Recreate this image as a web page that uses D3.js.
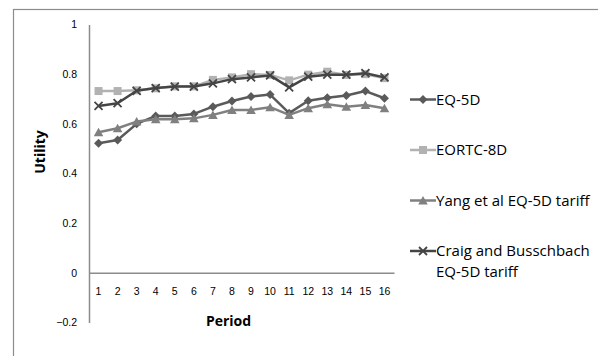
<!DOCTYPE html>
<html>
<head>
<meta charset="utf-8">
<script src="https://cdn.jsdelivr.net/npm/d3@7"></script>
<style>
  body { margin: 0; background: #fff; }
  svg { display: block; font-family: "Open Sans", sans-serif; }
</style>
</head>
<body>
<svg id="chart"></svg>
<script>
// values
const periods = d3.range(1, 17)
const eq5d   = [0.522, 0.535, 0.600, 0.632, 0.632, 0.640, 0.669, 0.692, 0.710, 0.718, 0.643, 0.693, 0.705, 0.714, 0.732, 0.703]
const eortc  = [0.732, 0.732, 0.735, 0.743, 0.751, 0.751, 0.777, 0.787, 0.800, 0.797, 0.775, 0.798, 0.810, 0.797, 0.800, 0.784]
const yang   = [0.566, 0.582, 0.609, 0.618, 0.618, 0.622, 0.636, 0.656, 0.656, 0.667, 0.636, 0.663, 0.679, 0.669, 0.676, 0.663]
const craig  = [0.672, 0.683, 0.733, 0.744, 0.750, 0.750, 0.763, 0.780, 0.787, 0.795, 0.747, 0.790, 0.798, 0.798, 0.804, 0.787]
const yTicks = [-0.2, 0, 0.2, 0.4, 0.6, 0.8, 1]

const series = [
  { name: ["EQ-5D"], values: eq5d, color: "#5a5a5a", marker: "diamond" },
  { name: ["EORTC-8D"], values: eortc, color: "#b2b2b2", marker: "square" },
  { name: ["Yang et al EQ-5D tariff"], values: yang, color: "#808080", marker: "triangle" },
  { name: ["Craig and Busschbach", "EQ-5D tariff"], values: craig, color: "#454545", marker: "cross" }
]

const W = 598, H = 356
const plot = { left: 89, right: 394, top: 24.5, bottom: 322.5 }

const svg = d3.select("#chart").attr("width", W).attr("height", H)

// outer chart border (runs off the canvas on the right and bottom)
svg.append("rect")
  .attr("x", 13.5).attr("y", 9.5)
  .attr("width", 700).attr("height", 500)
  .attr("fill", "none").attr("stroke", "#8c8c8c").attr("stroke-width", 1.2)

const x = d3.scaleBand().domain(periods).range([plot.left, plot.right])
const y = d3.scaleLinear().domain([-0.2, 1]).range([plot.bottom, plot.top])

// y axis
const yAxis = svg.append("g")
  .attr("transform", `translate(${plot.left},0)`)
  .call(d3.axisLeft(y).tickValues(yTicks).tickSize(0).tickPadding(12).tickFormat(d => d3.format("")(+d.toFixed(1))))
yAxis.select(".domain").attr("stroke", "#8c8c8c").attr("stroke-width", 1.5)
yAxis.selectAll("text").attr("font-size", 10.5).attr("fill", "#000")

// x axis at zero
const xAxis = svg.append("g")
  .attr("transform", `translate(0,${y(0)})`)
  .call(d3.axisBottom(x).tickSize(0).tickPadding(15))
xAxis.select(".domain").attr("stroke", "#8c8c8c").attr("stroke-width", 1.5)
xAxis.selectAll("text").attr("font-size", 10.5).attr("fill", "#000")

svg.append("text")
  .attr("x", (plot.left + plot.right) / 2 - 13).attr("y", 326)
  .attr("text-anchor", "middle")
  .attr("font-size", 14).attr("font-weight", "bold")
  .text("Period")

svg.append("text")
  .attr("transform", "translate(45,152) rotate(-90)")
  .attr("text-anchor", "middle")
  .attr("font-size", 14).attr("font-weight", "bold")
  .text("Utility")

const cx = d => x(d) + x.bandwidth() / 2

function drawMarker(g, type, color) {
  if (type === "diamond") {
    g.append("path").attr("d", "M0,-4.5L4.5,0L0,4.5L-4.5,0Z").attr("fill", color)
  } else if (type === "square") {
    g.append("rect").attr("x", -4).attr("y", -4).attr("width", 8).attr("height", 8).attr("fill", color)
  } else if (type === "triangle") {
    g.append("path").attr("d", "M0,-4.5L4.8,4L-4.8,4Z").attr("fill", color)
  } else {
    g.append("path").attr("d", "M-4,-4L4,4M-4,4L4,-4").attr("stroke", color).attr("stroke-width", 1.8)
  }
}

const line = d3.line().x((d, i) => cx(periods[i])).y(d => y(d))

series.forEach(s => {
  svg.append("path")
    .datum(s.values)
    .attr("d", line)
    .attr("fill", "none")
    .attr("stroke", s.color)
    .attr("stroke-width", 2.5)
    .attr("stroke-linejoin", "round")
  s.values.forEach((v, i) => {
    const g = svg.append("g").attr("transform", `translate(${cx(periods[i])},${y(v)})`)
    drawMarker(g, s.marker, s.color)
  })
})

// legend
const legendY = [99.5, 150, 200.5, 251]
series.forEach((s, i) => {
  const g = svg.append("g").attr("transform", `translate(410,${legendY[i]})`)
  g.append("line").attr("x1", 0).attr("x2", 26)
    .attr("stroke", s.color).attr("stroke-width", 2.5)
  const m = g.append("g").attr("transform", "translate(13,0)")
  drawMarker(m, s.marker, s.color)
  s.name.forEach((t, j) => {
    g.append("text")
      .attr("x", 26).attr("y", j * 21)
      .attr("dy", "0.35em")
      .attr("font-size", 15)
      .text(t)
  })
})
</script>
</body>
</html>
